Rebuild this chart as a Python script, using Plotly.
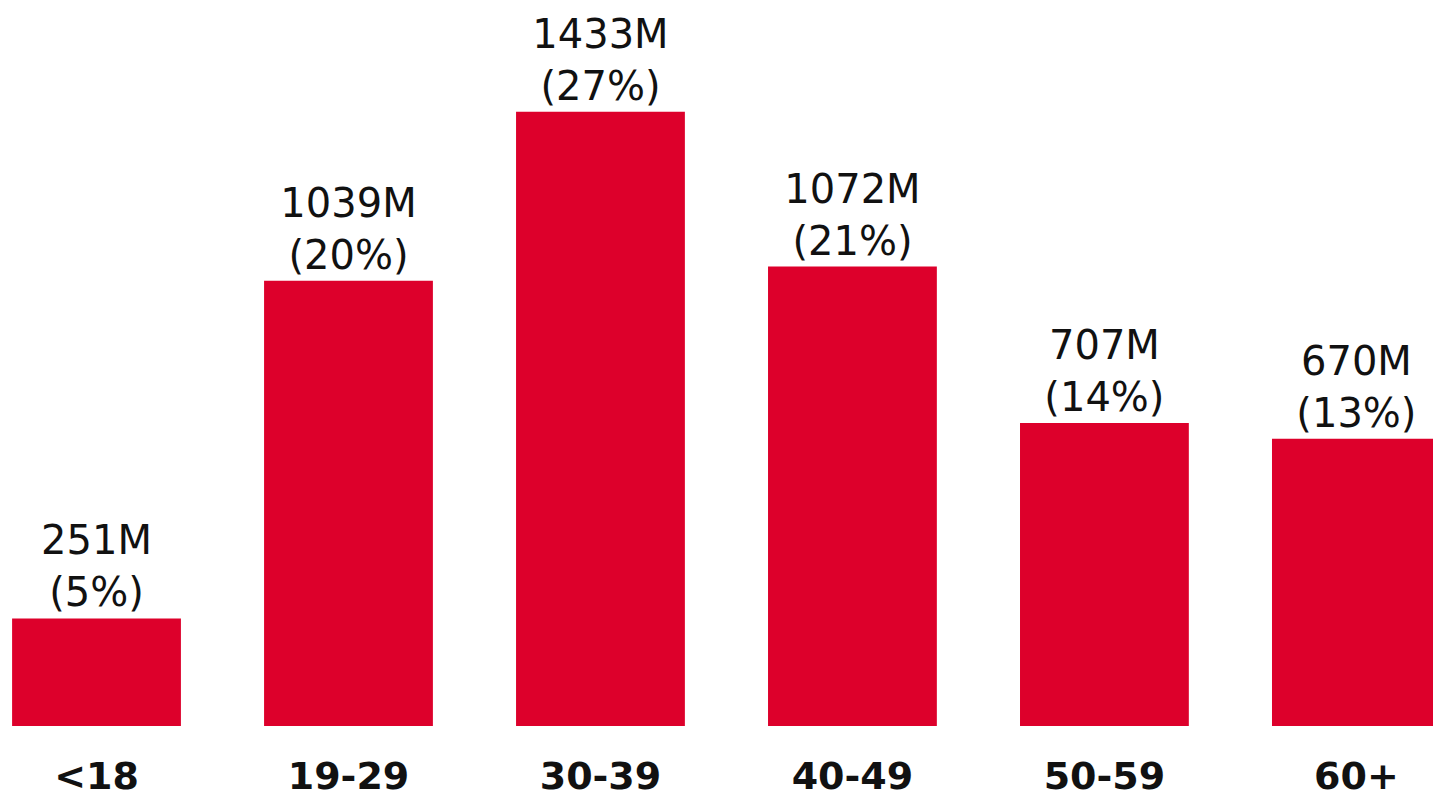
import plotly.graph_objects as go

# Age groups and their sizes (millions) with share of total
age_groups = ["<18", "19-29", "30-39", "40-49", "50-59", "60+"]
millions = [251, 1039, 1433, 1072, 707, 670]
shares = [5, 20, 27, 21, 14, 13]

labels = [f"{m}M<br>({s}%)" for m, s in zip(millions, shares)]

fig = go.Figure(
    go.Bar(
        x=age_groups,
        y=millions,
        text=labels,
        textposition="outside",
        textfont=dict(family="DejaVu Sans", size=40, color="#111111"),
        marker=dict(color="#DD002B", line=dict(width=0)),
        cliponaxis=False,
        hoverinfo="skip",
    )
)

fig.update_layout(
    width=1433,
    height=799,
    margin=dict(l=0, r=0, t=0, b=73),
    plot_bgcolor="white",
    paper_bgcolor="white",
    bargap=0.33,
    showlegend=False,
    xaxis=dict(
        range=[-0.383, 5.304],
        automargin=False,
        showgrid=False,
        zeroline=False,
        showline=False,
        ticks="",
        ticklabelstandoff=24,
        tickfont=dict(family="DejaVu Sans", size=38, color="#111111", weight="bold"),
    ),
    yaxis=dict(
        range=[0, 1694],
        visible=False,
    ),
)

fig.write_html("out.html")
